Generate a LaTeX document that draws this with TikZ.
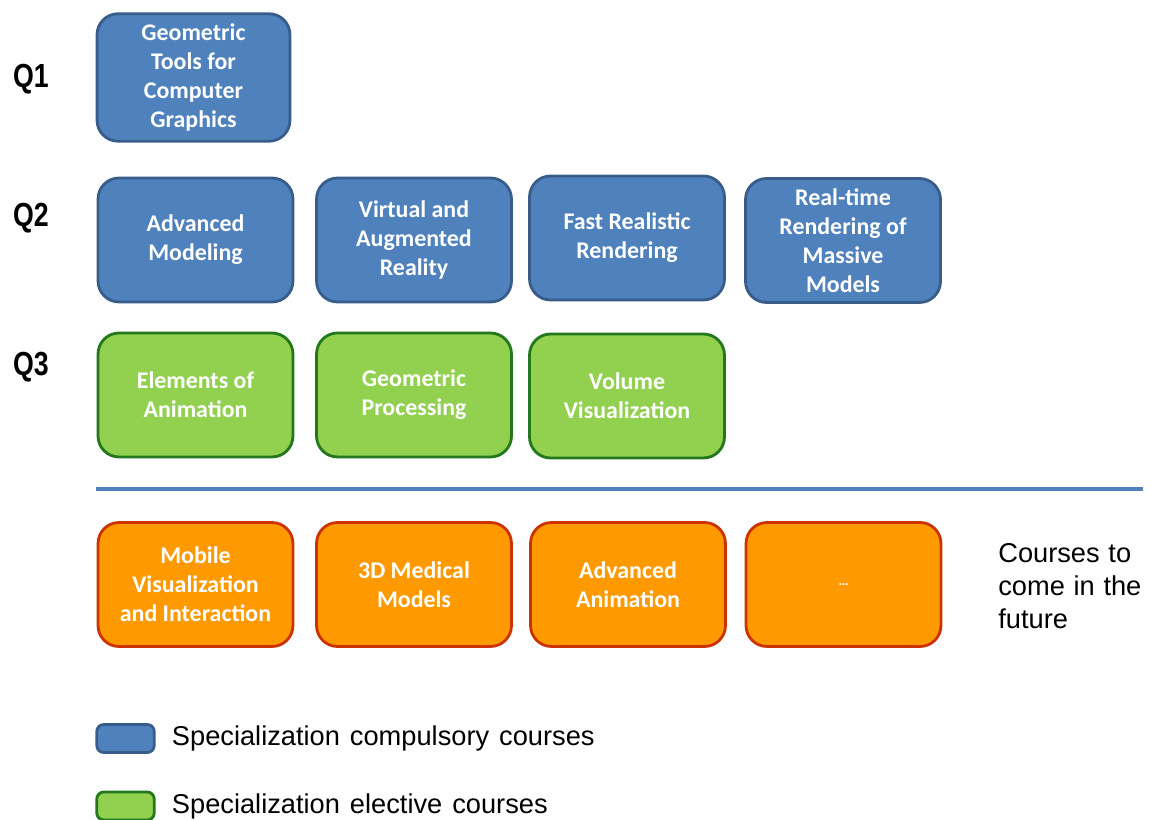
\documentclass[tikz,border=0pt]{standalone}
\usepackage{fontspec}
\setmainfont{Carlito}
\newfontfamily\arialfont{Liberation Sans}
\newfontfamily\legendfont[WordSpace=1.15]{Liberation Sans}
\newfontfamily\qfont[FakeStretch=0.8]{Liberation Sans}
\usetikzlibrary{positioning}
\definecolor{compfill}{HTML}{4F81BD}
\definecolor{compline}{HTML}{385D8A}
\definecolor{electfill}{HTML}{92D050}
\definecolor{electline}{HTML}{23781C}
\definecolor{futfill}{HTML}{FF9900}
\definecolor{futline}{HTML}{CC3300}
\tikzset{
    course/.style={rectangle,rounded corners=0.42cm,line width=1.6pt,minimum width=3.9cm,minimum height=2.48cm,
        inner sep=0pt,align=center,text=white,font=\fontsize{13.6}{16.6}\selectfont\bfseries},
    compulsory/.style={course,draw=compline,fill=compfill},
    elective/.style={course,draw=electline,fill=electfill},
    future/.style={course,draw=futline,fill=futfill},
    quarter/.style={font=\qfont\fontsize{19}{20}\selectfont\bfseries},
    legendbox/.style={rectangle,rounded corners=0.14cm,line width=1.6pt,minimum width=1.15cm,minimum height=0.56cm,inner sep=0pt},
    legendtext/.style={anchor=west,font=\arialfont\fontsize{15.5}{18.6}\selectfont,inner sep=0pt}
}

\begin{document}
\begin{tikzpicture}[x=0.02cm,y=-0.02cm]
\useasboundingbox (0,0) rectangle (1150,820);

% quarters
\node[quarter] (q1) at (31,79) {Q1};
\node[quarter] (q2) at (31,218) {Q2};
\node[quarter] (q3) at (31,367) {Q3};

% Q1
\node[compulsory,minimum width=3.86cm,minimum height=2.55cm] (gtcg) at (193.5,77.5) {Geometric\\Tools for\\Computer\\Graphics};

% Q2
\node[compulsory] (am) at (195.5,240) {Advanced\\Modeling};
\node[compulsory] (var) at (414,240) {Virtual and\\Augmented\\Reality};
\node[compulsory] (frr) at (627,238) {Fast Realistic\\Rendering};
\node[compulsory] (rrmm) at (843,240.5) {Real-time\\Rendering of\\Massive\\Models};

% Q3
\node[elective] (ea) at (195.5,395) {Elements of\\Animation};
\node[elective] (gp) at (414,395) {Geometric\\Processing};
\node[elective] (vv) at (627,396) {Volume\\Visualization};

% separator
\coordinate (sepl) at (96,489);
\coordinate (sepr) at (1143,489);
\draw[compfill,line width=2.3pt] (sepl) -- (sepr);

% future
\node[future] (mvi) at (195.5,584.5) {Mobile\\Visualization\\and Interaction};
\node[future] (mm) at (414,584.5) {3D Medical\\Models};
\node[future] (aa) at (628,584.5) {Advanced\\Animation};
\node[future,font=\fontsize{8}{10}\selectfont\bfseries] (more) at (843.5,584.5) {\ldots};
\node[legendtext,align=left] (cfut) at (998,586) {Courses to\\come in the\\future};

% legend
\node[legendbox,draw=compline,fill=compfill] (lcomp) at (125.5,738.5) {};
\node[legendtext,right=0.32cm of lcomp,font=\legendfont\fontsize{15.5}{18.6}\selectfont] (tcomp) {Specialization compulsory courses};
\node[legendbox,draw=electline,fill=electfill] (lelect) at (125.5,806) {};
\node[legendtext,right=0.32cm of lelect,font=\legendfont\fontsize{15.5}{18.6}\selectfont] (telect) {Specialization elective courses};

\end{tikzpicture}
\end{document}
